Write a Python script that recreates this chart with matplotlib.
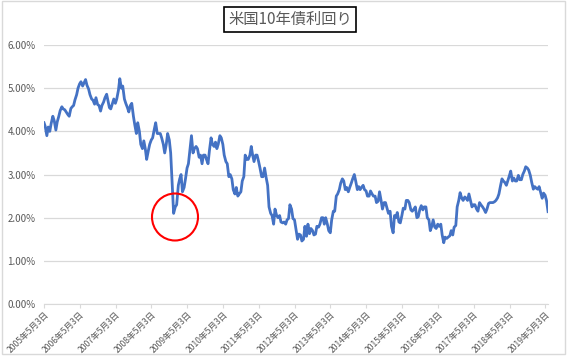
import matplotlib
matplotlib.use("Agg")
import matplotlib.pyplot as plt
from matplotlib.patches import Ellipse, Rectangle
from matplotlib.ticker import FuncFormatter
import pandas as pd

plt.rcParams['font.family'] = ['Noto Sans CJK JP', 'DejaVu Sans']

# 米国10年債利回り (%), 月2回 (1日, 15日) の読み取り値
y2005 = [4.20, 4.12, 3.90, 4.10, 4.00, 4.18, 4.35, 4.25, 4.03, 4.22, 4.35, 4.48, 4.57, 4.52, 4.50, 4.45]
y2006 = [4.39, 4.35, 4.53, 4.57, 4.60, 4.73, 4.85, 5.00, 5.10, 5.15, 5.05, 5.12,
         5.20, 5.07, 4.98, 4.85, 4.75, 4.72, 4.63, 4.78, 4.62, 4.60, 4.47, 4.60]
y2007 = [4.68, 4.78, 4.86, 4.70, 4.55, 4.52, 4.65, 4.75, 4.65, 4.75, 4.95, 5.22,
         5.00, 5.05, 4.75, 4.65, 4.55, 4.45, 4.60, 4.65, 4.35, 4.15, 3.95, 4.20]
y2008 = [4.00, 3.70, 3.60, 3.78, 3.60, 3.35, 3.55, 3.70, 3.80, 3.85, 4.05, 4.20,
         3.95, 3.95, 3.95, 3.85, 3.70, 3.50, 3.70, 3.95, 3.80, 3.50, 2.75, 2.10]
y2009 = [2.25, 2.30, 2.75, 2.90, 3.00, 2.60, 2.70, 2.90, 3.15, 3.25, 3.60, 3.90,
         3.50, 3.60, 3.65, 3.60, 3.40, 3.45, 3.25, 3.45, 3.45, 3.35, 3.25, 3.55]
y2010 = [3.85, 3.70, 3.65, 3.75, 3.60, 3.70, 3.90, 3.85, 3.70, 3.45, 3.30, 3.25,
         2.95, 3.00, 2.90, 2.65, 2.55, 2.70, 2.50, 2.55, 2.60, 2.85, 2.95, 3.45]
y2011 = [3.35, 3.35, 3.45, 3.65, 3.45, 3.30, 3.45, 3.45, 3.30, 3.15, 2.95, 2.95,
         3.15, 2.95, 2.75, 2.25, 2.10, 2.05, 1.85, 2.20, 2.05, 2.00, 2.05, 1.90]
y2012 = [1.88, 1.90, 1.85, 1.95, 1.98, 2.30, 2.20, 1.98, 1.95, 1.75, 1.50, 1.62,
         1.60, 1.46, 1.50, 1.80, 1.57, 1.85, 1.63, 1.75, 1.70, 1.60, 1.62, 1.80]
y2013 = [1.78, 1.85, 2.00, 2.00, 1.85, 2.00, 1.85, 1.70, 1.65, 1.95, 2.15, 2.15,
         2.50, 2.55, 2.65, 2.80, 2.90, 2.85, 2.65, 2.70, 2.60, 2.70, 2.80, 2.90]
y2014 = [3.00, 2.85, 2.65, 2.72, 2.65, 2.70, 2.75, 2.65, 2.62, 2.50, 2.50, 2.62,
         2.55, 2.50, 2.50, 2.35, 2.38, 2.60, 2.40, 2.20, 2.35, 2.35, 2.22, 2.10]
y2015 = [2.15, 1.80, 1.65, 2.05, 2.00, 2.12, 1.90, 1.88, 2.05, 2.22, 2.20, 2.40,
         2.40, 2.35, 2.18, 2.15, 2.20, 2.25, 2.00, 2.02, 2.20, 2.28, 2.18, 2.25]
y2016 = [2.25, 2.00, 1.95, 1.70, 1.80, 1.95, 1.78, 1.75, 1.85, 1.80, 1.85, 1.60,
         1.42, 1.55, 1.52, 1.55, 1.58, 1.70, 1.60, 1.78, 1.82, 2.25, 2.40, 2.58]
y2017 = [2.45, 2.40, 2.48, 2.45, 2.40, 2.55, 2.38, 2.25, 2.30, 2.30, 2.20, 2.15,
         2.35, 2.30, 2.25, 2.20, 2.12, 2.20, 2.33, 2.35, 2.35, 2.35, 2.37, 2.40]
y2018 = [2.46, 2.55, 2.75, 2.90, 2.85, 2.82, 2.75, 2.85, 2.97, 3.08, 2.85, 2.92,
         2.85, 2.85, 2.98, 2.88, 2.88, 3.00, 3.08, 3.18, 3.15, 3.10, 2.98, 2.82]
y2019 = [2.66, 2.72, 2.68, 2.66, 2.72, 2.60, 2.45, 2.57, 2.52, 2.40]
last_value = 2.14

tick_years = list(range(2005, 2020))
tick_labels = [f"{y}年5月3日" for y in tick_years]
y_ticks = [0, 1, 2, 3, 4, 5, 6]

values = y2005 + y2006 + y2007 + y2008 + y2009 + y2010 + y2011 + y2012 + \
    y2013 + y2014 + y2015 + y2016 + y2017 + y2018 + y2019
dates = list(pd.date_range('2005-05-01', periods=len(values), freq='SMS'))
dates[0] = pd.Timestamp('2005-05-03')
dates.append(pd.Timestamp('2019-05-31'))
values.append(last_value)

fig = plt.figure(figsize=(5.67, 3.56), dpi=100)
ax = fig.add_axes([0.0776, 0.146, 0.889, 0.7275])

ax.plot(dates, values, color='#4472C4', lw=2.0)

ax.set_ylim(0, 6)
ax.set_yticks(y_ticks)
ax.yaxis.set_major_formatter(FuncFormatter(lambda v, p: f"{v:.2f}%"))
ax.grid(axis='y', color='#D9D9D9', lw=0.9)
ax.set_axisbelow(True)

ax.set_xlim(pd.Timestamp('2005-05-03'), pd.Timestamp('2019-05-31'))
ax.set_xticks([pd.Timestamp(f"{y}-05-03") for y in tick_years])
ax.set_xticklabels(tick_labels, rotation=45, ha='right', rotation_mode='anchor',
                   fontsize=6.2, color='#595959')
ax.tick_params(axis='x', length=3, color='#D9D9D9', pad=1)
ax.tick_params(axis='y', length=0, labelsize=7, labelcolor='#595959', pad=6)

for s in ['left', 'right', 'top']:
    ax.spines[s].set_visible(False)
ax.spines['bottom'].set_color('#D9D9D9')

# タイトル (枠付き)
fig.text(0.5115, 0.945, '米国10年債利回り', ha='center', va='center', fontsize=11,
         color='#595959',
         bbox=dict(boxstyle='square,pad=0.25', fc='white', ec='black', lw=1.2))

# 2008年末の急落を赤丸で強調
fig.add_artist(Ellipse((175 / 567, 1 - 217 / 356), 46 / 567, 47 / 356,
                       transform=fig.transFigure, fill=False, ec='red', lw=1.5))

# グラフ外枠
fig.add_artist(Rectangle((0.003, 0.006), 0.994, 0.99, transform=fig.transFigure,
                         fill=False, ec='#D9D9D9', lw=1))

fig.savefig('out.png', dpi=100)
